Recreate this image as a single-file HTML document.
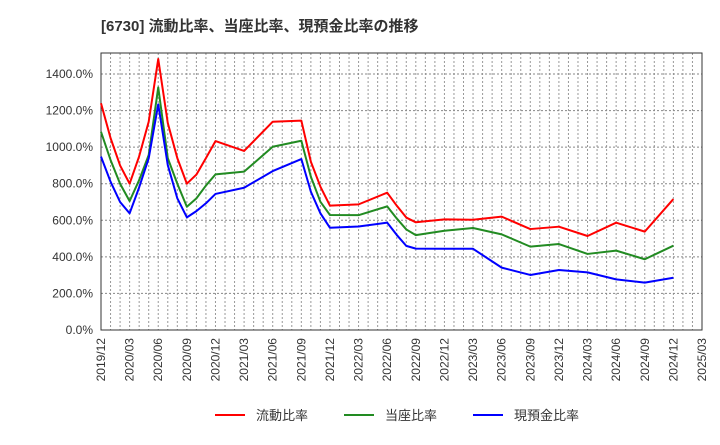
<!DOCTYPE html>
<html><head><meta charset="utf-8"><style>
body{margin:0;background:#fff;width:720px;height:440px;overflow:hidden}
svg text{font-family:"Liberation Sans","Noto Sans CJK JP",sans-serif;fill:#333}
</style></head><body>
<svg id="chart" width="720" height="440" xmlns="http://www.w3.org/2000/svg">
<text x="101" y="31" font-size="15" font-weight="bold">[6730]  流動比率、当座比率、現預金比率の推移</text>
<g id="grid"></g><g id="axes"></g><g id="series"></g>
<g>
<line x1="215" y1="415" x2="245" y2="415" stroke="#ff0000" stroke-width="2"/>
<text x="256" y="420" font-size="13">流動比率</text>
<line x1="344" y1="415" x2="374" y2="415" stroke="#228b22" stroke-width="2"/>
<text x="385" y="420" font-size="13">当座比率</text>
<line x1="473" y1="415" x2="503" y2="415" stroke="#0000ff" stroke-width="2"/>
<text x="514" y="420" font-size="13">現預金比率</text>
</g>
</svg>
<script>
const months=[0,1,2,3,4,5,6,7,8,9,10,11,12,15,18,21,22,23,24,27,30,31,32,33,36,39,42,45,48,51,54,57,60];
const current=[1240,1050,900,800,950,1139,1482,1132,940,800,850,940,1033,979,1139,1145,920,784,680,687,751,680,615,589,605,603,620,552,565,514,587,538,716];
const quick=[1084,930,800,705,820,957,1327,940,800,674,720,790,851,866,1002,1035,838,701,629,628,676,610,550,519,543,558,523,456,470,416,434,387,461];
const cash=[948,811,700,638,780,939,1234,902,720,616,650,693,744,778,869,935,756,638,559,566,587,520,460,445,444,444,341,301,328,315,277,259,286];
const yTicks=[0,200,400,600,800,1000,1200,1400];
const xLabels=["2019/12","2020/03","2020/06","2020/09","2020/12","2021/03","2021/06","2021/09","2021/12","2022/03","2022/06","2022/09","2022/12","2023/03","2023/06","2023/09","2023/12","2024/03","2024/06","2024/09","2024/12","2025/03"];
const L=101,R=702,T=53,B=330,NM=63;
const x=m=>L+m*(R-L)/NM;
const y=v=>B-v*(B-74)/1400;
const NS="http://www.w3.org/2000/svg";
function mk(tag,attrs,parent){const e=document.createElementNS(NS,tag);for(const k in attrs)e.setAttribute(k,attrs[k]);parent.appendChild(e);return e;}
const grid=document.getElementById('grid'),axes=document.getElementById('axes'),ser=document.getElementById('series');
for(let m=1;m<NM;m++){const g=mk('line',{x1:x(m),x2:x(m),y1:T,y2:B,stroke:'#999','stroke-dasharray':'2,2','stroke-width':1},grid);

}
yTicks.forEach(v=>{
 if(v>0){const g=mk('line',{x1:L,x2:R,y1:y(v),y2:y(v),stroke:'#888','stroke-dasharray':'2,2','stroke-width':1},grid);
 
 }
 const t=mk('text',{x:L-8,y:y(v)+4,'font-size':12,'text-anchor':'end'},axes);t.textContent=v.toFixed(1)+'%';
 
 
});
xLabels.forEach((s,i)=>{const px=x(i*3);
 const t=mk('text',{x:0,y:0,'font-size':12,'text-anchor':'end',transform:`translate(${px+4},${B+8}) rotate(-90)`},axes);t.textContent=s;
 
 
});
const fr=mk('rect',{x:L,y:T,width:R-L,height:B-T,fill:'none',stroke:'#333','stroke-width':1},axes);


[[current,'#ff0000','current-ratio-line'],[quick,'#228b22','quick-ratio-line'],[cash,'#0000ff','cash-ratio-line']].forEach(([d,c,n])=>{
 const p=mk('polyline',{points:months.map((m,i)=>x(m)+','+y(d[i])).join(' '),fill:'none',stroke:c,'stroke-width':2,'stroke-linejoin':'round'},ser);
 
 
});
</script>
</body></html>
